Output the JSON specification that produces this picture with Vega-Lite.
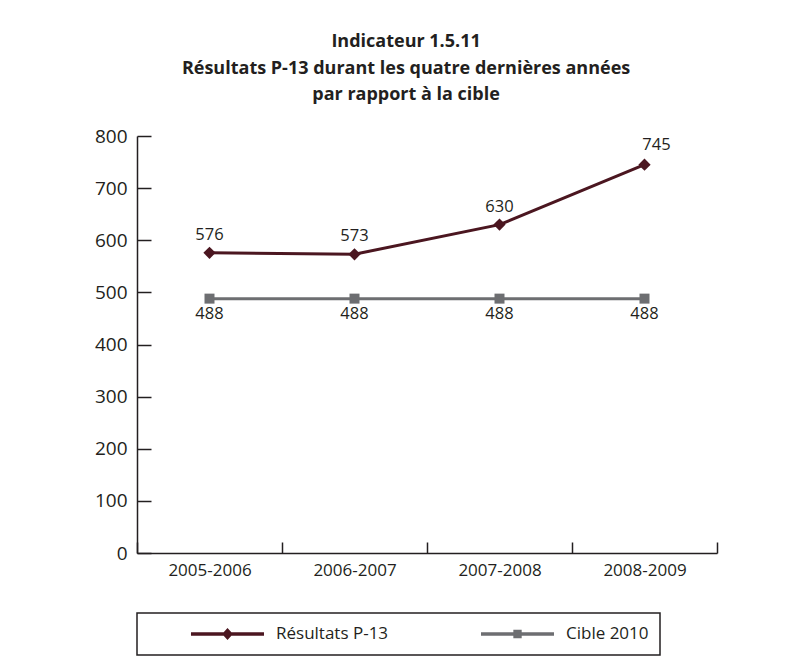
{
  "$schema": "https://vega.github.io/schema/vega-lite/v6.json",
  "width": 580,
  "height": 417,
  "autosize": {"type": "none"},
  "padding": {"left": 137, "top": 136, "right": 88, "bottom": 116},
  "background": "white",
  "config": {"view": {"stroke": null}, "font": "Open Sans", "legend": {"strokeWidth": 1.5}},
  "title": {
    "text": ["Indicateur 1.5.11", "Résultats P-13 durant les quatre dernières années", "par rapport à la cible"],
    "font": "Open Sans",
    "fontSize": 18,
    "fontWeight": "bold",
    "color": "#231f20",
    "lineHeight": 26.5,
    "anchor": "middle",
    "frame": "bounds",
    "offset": 23
  },
  "data": {
    "values": [
      {"annee": "2005-2006", "serie": "Résultats P-13", "valeur": 576},
      {"annee": "2006-2007", "serie": "Résultats P-13", "valeur": 573},
      {"annee": "2007-2008", "serie": "Résultats P-13", "valeur": 630},
      {"annee": "2008-2009", "serie": "Résultats P-13", "valeur": 745},
      {"annee": "2005-2006", "serie": "Cible 2010", "valeur": 488},
      {"annee": "2006-2007", "serie": "Cible 2010", "valeur": 488},
      {"annee": "2007-2008", "serie": "Cible 2010", "valeur": 488},
      {"annee": "2008-2009", "serie": "Cible 2010", "valeur": 488}
    ]
  },
  "encoding": {
    "x": {
      "field": "annee",
      "type": "nominal",
      "sort": null,
      "scale": {"type": "band", "paddingInner": 0, "paddingOuter": 0},
      "axis": {
        "title": null,
        "labelAngle": 0,
        "tickBand": "extent",
        "tickSize": -11,
        "tickWidth": 1.5,
        "tickColor": "#231f20",
        "domainColor": "#231f20",
        "domainWidth": 1.5,
        "labelFont": "Open Sans",
        "labelFontSize": 17,
        "labelColor": "#231f20",
        "labelPadding": 20,
        "grid": false
      }
    },
    "y": {
      "field": "valeur",
      "type": "quantitative",
      "scale": {"domain": [0, 800], "nice": false},
      "axis": {
        "title": null,
        "values": [0, 100, 200, 300, 400, 500, 600, 700, 800],
        "tickSize": -14,
        "tickWidth": 1.5,
        "tickColor": "#231f20",
        "domainColor": "#231f20",
        "domainWidth": 1.5,
        "labelFont": "Open Sans",
        "labelFontSize": 19,
        "labelColor": "#231f20",
        "labelPadding": 24,
        "grid": false
      }
    }
  },
  "layer": [
    {
      "mark": {"type": "line", "strokeWidth": 3},
      "encoding": {
        "color": {
          "field": "serie",
          "type": "nominal",
          "scale": {"domain": ["Résultats P-13", "Cible 2010"], "range": ["#4b1620", "#6d6e71"]},
          "legend": {
            "title": null,
            "orient": "bottom",
            "direction": "horizontal",
            "offset": 35,
            "padding": 11,
            "strokeColor": "#231f20",
            "symbolSize": 13456,
            "clipHeight": 20,
            "labelOffset": 12,
            "columnPadding": 49,
            "labelFont": "Open Sans",
            "labelFontSize": 17,
            "labelColor": "#231f20",
            "labelLimit": 400,
            "labelExpr": "datum.label === 'Cible 2010' ? datum.label + '              ' : datum.label",
            "encode": {
              "symbols": {
                "update": {
                  "shape": {"signal": "datum.value === 'Résultats P-13' ? 'M-0.259,-0.032H1V0.032H-0.259ZM0.371,-0.103L0.465,0L0.371,0.103L0.277,0Z' : 'M-0.259,-0.032H1V0.032H-0.259ZM0.299,-0.072H0.443V0.072H0.299Z'"},
                  "fill": {"signal": "datum.value === 'Résultats P-13' ? '#4b1620' : '#6d6e71'"},
                  "stroke": {"value": "transparent"},
                  "strokeWidth": {"value": 0},
                  "opacity": {"value": 1},
                  "fillOpacity": {"value": 1}
                }
              }
            }
          }
        }
      }
    },
    {
      "transform": [{"filter": "datum.serie === 'Résultats P-13'"}],
      "mark": {"type": "point", "shape": "diamond", "size": 150, "filled": true, "opacity": 1, "color": "#4b1620"}
    },
    {
      "transform": [{"filter": "datum.serie === 'Cible 2010'"}],
      "mark": {"type": "point", "shape": "square", "size": 100, "filled": true, "opacity": 1, "color": "#6d6e71"}
    },
    {
      "transform": [{"filter": "datum.serie === 'Résultats P-13' && datum.annee !== '2008-2009'"}],
      "mark": {"type": "text", "dy": -18, "fontSize": 16.5, "font": "Open Sans", "color": "#231f20"},
      "encoding": {"text": {"field": "valeur", "type": "quantitative"}}
    },
    {
      "transform": [{"filter": "datum.serie === 'Résultats P-13' && datum.annee === '2008-2009'"}],
      "mark": {"type": "text", "dx": 12, "dy": -20, "fontSize": 16.5, "font": "Open Sans", "color": "#231f20"},
      "encoding": {"text": {"field": "valeur", "type": "quantitative"}}
    },
    {
      "transform": [{"filter": "datum.serie === 'Cible 2010'"}],
      "mark": {"type": "text", "dy": 15, "fontSize": 16.5, "font": "Open Sans", "color": "#231f20"},
      "encoding": {"text": {"field": "valeur", "type": "quantitative"}}
    }
  ]
}
